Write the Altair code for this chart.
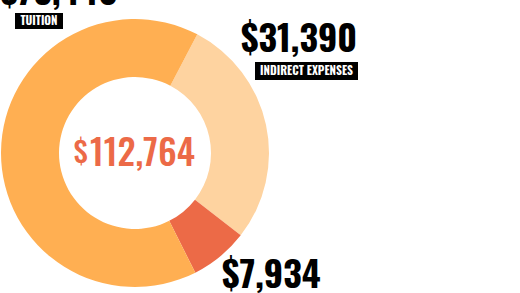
import altair as alt
import pandas as pd
import math

# ---- data ----
categories = ["Indirect Expenses", "Other Costs", "Tuition"]
values = [31390, 7934, 73440]
amount_labels = ["$31,390", "$7,934", "$73,440"]
slice_colors = ["#FED3A0", "#EC6A47", "#FFAF52"]
total_label = "112,764"

df = pd.DataFrame({
    "category": categories,
    "value": values,
    "ord": list(range(len(categories))),
})

FONT = "Oswald, Roboto Condensed, sans-serif"
start = math.radians(27.7)

cx, cy = 135, 153

arc = alt.Chart(df).mark_arc(innerRadius=76, outerRadius=134).encode(
    theta=alt.Theta("value:Q", stack=True,
                    scale=alt.Scale(range=[start, start + 2 * math.pi])),
    order=alt.Order("ord:Q"),
    color=alt.Color("category:N", legend=None,
                    scale=alt.Scale(domain=categories, range=slice_colors)),
    x=alt.value(cx),
    y=alt.value(cy),
)

base = alt.Chart(pd.DataFrame({"k": [0]}))


def text(t, x, y, size, color="#000000", align="left", baseline="alphabetic", weight="bold"):
    return base.mark_text(
        text=t, font=FONT, fontSize=size, fontWeight=weight, color=color,
        align=align, baseline=baseline,
    ).encode(x=alt.value(x), y=alt.value(y))


def box(t, x0, x1, y0, y1, size=11.5):
    r = base.mark_rect(color="#000000").encode(
        x=alt.value(x0), x2=alt.value(x1), y=alt.value(y0), y2=alt.value(y1))
    tx = text(t, (x0 + x1) / 2, (y0 + y1) / 2 + 0.5, size, color="#ffffff",
              align="center", baseline="middle")
    return r + tx


layers = [
    arc,
    # center total
    text("$", 88, 163, 29, color="#EC6A47", align="right", weight=500),
    text(total_label, 90, 166, 36, color="#EC6A47", weight=500),
    # tuition (top-left, cut off)
    text(amount_labels[2], 118, 5, 36, align="right"),
    box("TUITION", 15, 63, 13, 29),
    # indirect expenses
    text(amount_labels[0], 241, 52, 36),
    box("INDIRECT EXPENSES", 255, 358, 62, 80),
    # other
    text(amount_labels[1], 222, 288, 36),
]

chart = alt.layer(*layers).properties(
    width=520, height=293, autosize=alt.AutoSizeParams(type="none"),
    padding=0,
).configure_view(stroke=None)

chart.save("out.html", embed_options={"renderer": "svg", "actions": False})
